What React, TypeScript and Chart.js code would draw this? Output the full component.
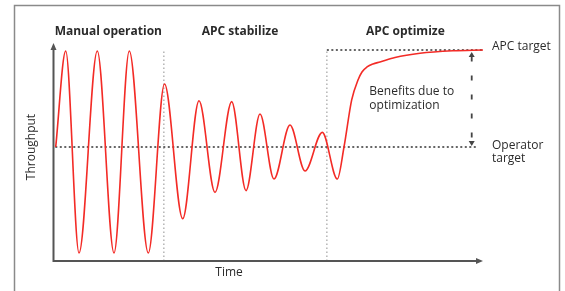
import React, { useEffect, useRef } from "react";
import { Chart, registerables } from "chart.js";

Chart.register(...registerables);

// Time axis (0-100) and throughput (0-100) readings of the red curve
const timePoints = [0.4, 2.73, 5.83, 10.09, 13.99, 17.55, 21.98, 25.76, 30.0, 33.8, 37.53, 41.42, 44.76, 48.02, 51.28, 55.01, 58.51, 62.54, 66.04, 67.6, 69.39, 70.86, 71.79, 72.96, 74.36, 75.99, 79.49, 85.31, 93.01, 100];
const throughput = [52.3, 96.3, 3.7, 96.3, 3.7, 96.3, 3.7, 81.2, 19.4, 73.5, 31.5, 73.1, 32.3, 67.4, 37.6, 62.4, 41.3, 59.0, 37.6, 52.3, 73.9, 83.0, 86.7, 89.0, 90.4, 91.3, 93.35, 95.28, 96.42, 96.8];

const operatorTarget = 52.3;
const apcTarget = 96.8;
const phaseBoundaries = [25.6, 63.6];
const phaseBoundaryTops = [96.3, 96.8];
const phaseLabels = ["Manual operation", "APC stabilize", "APC optimize"];
const phaseCenters = [12.66, 43.36, 81.89];
const benefitTime = 97.37;
const benefitLabel = ["Benefits due to", "optimization"];
const apcTargetLabel = ["APC target"];
const operatorTargetLabel = ["Operator", "target"];
const xTitle = "Time";
const yTitle = "Throughput";

const FONT = "'Open Sans', 'Noto Sans', sans-serif";
const TEXT = "#2b2b2b";
const RED = "#f32b26";

const drawPlugin = {
  id: "diagram",
  beforeDraw(chart: any) {
    const ctx = chart.ctx;
    ctx.save();
    ctx.fillStyle = "#ffffff";
    ctx.fillRect(0, 0, chart.width, chart.height);
    ctx.strokeStyle = "#8a8a8a";
    ctx.lineWidth = 1.5;
    ctx.strokeRect(14.5, 5.5, 545, 320);
    ctx.restore();
  },
  afterDatasetsDraw(chart: any) {
    const ctx = chart.ctx;
    const xs = chart.scales.x;
    const ys = chart.scales.y;
    const { left, right, top, bottom } = chart.chartArea;
    ctx.save();
    // axes
    ctx.strokeStyle = "#555555";
    ctx.fillStyle = "#555555";
    ctx.lineWidth = 2;
    ctx.beginPath();
    ctx.moveTo(left - 0.5, bottom);
    ctx.lineTo(left - 0.5, top + 5);
    ctx.moveTo(left - 1.5, bottom);
    ctx.lineTo(right - 5, bottom);
    ctx.stroke();
    ctx.beginPath();
    ctx.moveTo(left - 0.5, top);
    ctx.lineTo(left - 3.5, top + 7);
    ctx.lineTo(left + 2.5, top + 7);
    ctx.closePath();
    ctx.fill();
    ctx.beginPath();
    ctx.moveTo(right, bottom);
    ctx.lineTo(right - 7, bottom - 3);
    ctx.lineTo(right - 7, bottom + 3);
    ctx.closePath();
    ctx.fill();

    // benefit arrow heads
    const bx = xs.getPixelForValue(benefitTime);
    const by1 = ys.getPixelForValue(apcTarget) + 2;
    const by2 = ys.getPixelForValue(operatorTarget) - 1;
    ctx.fillStyle = "#444444";
    ctx.beginPath();
    ctx.moveTo(bx, by1);
    ctx.lineTo(bx - 3, by1 + 5);
    ctx.lineTo(bx + 3, by1 + 5);
    ctx.closePath();
    ctx.fill();
    ctx.beginPath();
    ctx.moveTo(bx, by2);
    ctx.lineTo(bx - 3, by2 - 5);
    ctx.lineTo(bx + 3, by2 - 5);
    ctx.closePath();
    ctx.fill();

    // texts
    ctx.fillStyle = TEXT;
    ctx.textBaseline = "middle";
    ctx.textAlign = "center";
    ctx.font = `bold 12px ${FONT}`;
    phaseLabels.forEach((t, i) => {
      ctx.fillText(t, xs.getPixelForValue(phaseCenters[i]), 32);
    });
    ctx.font = `12px ${FONT}`;
    ctx.textAlign = "left";
    const labelX = right + 9;
    apcTargetLabel.forEach((t, i) => ctx.fillText(t, labelX, ys.getPixelForValue(apcTarget) - 3 + i * 13));
    operatorTargetLabel.forEach((t, i) => ctx.fillText(t, labelX, ys.getPixelForValue(operatorTarget) - 1 + i * 13));
    const bLeft = xs.getPixelForValue(73.5);
    benefitLabel.forEach((t, i) => ctx.fillText(t, bLeft, 92 + i * 13.5));
    ctx.textAlign = "center";
    ctx.fillText(xTitle, xs.getPixelForValue(40.8), bottom + 12);
    ctx.translate(32, (top + bottom) / 2 - 5);
    ctx.rotate(-Math.PI / 2);
    ctx.fillText(yTitle, 0, 0);
    ctx.restore();
  },
};

export default function App() {
  const ref = useRef<HTMLCanvasElement>(null);
  useEffect(() => {
    if (!ref.current) return;
    const curve = timePoints.map((t, i) => ({ x: t, y: throughput[i] }));
    const chart = new Chart(ref.current, {
      type: "line",
      data: {
        datasets: [
          {
            data: curve,
            borderColor: RED,
            borderWidth: 1.6,
            pointRadius: 0,
            cubicInterpolationMode: "monotone",
            order: 0,
          },
          {
            data: [{ x: 0.3, y: operatorTarget }, { x: 98.8, y: operatorTarget }],
            borderColor: "#333333",
            borderWidth: 1.6,
            borderDash: [2, 2.5],
            pointRadius: 0,
            order: 2,
          },
          {
            data: [{ x: phaseBoundaries[1], y: apcTarget }, { x: 100.4, y: apcTarget }],
            borderColor: "#333333",
            borderWidth: 1.6,
            borderDash: [2, 2.5],
            pointRadius: 0,
            order: 2,
          },
          {
            data: [{ x: phaseBoundaries[0], y: 0 }, { x: phaseBoundaries[0], y: phaseBoundaryTops[0] }],
            borderColor: "#b5b5b5",
            borderWidth: 1.5,
            borderDash: [1.5, 2.5],
            pointRadius: 0,
            order: 3,
          },
          {
            data: [{ x: phaseBoundaries[1], y: 0 }, { x: phaseBoundaries[1], y: phaseBoundaryTops[1] }],
            borderColor: "#b5b5b5",
            borderWidth: 1.5,
            borderDash: [1.5, 2.5],
            pointRadius: 0,
            order: 3,
          },
          {
            data: [{ x: benefitTime, y: apcTarget - 3 }, { x: benefitTime, y: operatorTarget + 1.5 }],
            borderColor: "#444444",
            borderWidth: 1.8,
            borderDash: [5, 14],
            pointRadius: 0,
            order: 1,
          },
        ],
      },
      options: {
        responsive: false,
        animation: false,
        layout: { padding: { left: 54, right: 82, top: 43, bottom: 30 } },
        plugins: { legend: { display: false }, tooltip: { enabled: false } },
        scales: {
          x: { type: "linear", min: 0, max: 100, display: false },
          y: { type: "linear", min: 0, max: 100, display: false },
        },
      },
      plugins: [drawPlugin],
    });
    return () => chart.destroy();
  }, []);
  return (
    <div style={{ position: "absolute", left: 0, top: 0, width: 565, height: 291 }}>
      <canvas ref={ref} width={565} height={291} style={{ display: "block" }} />
    </div>
  );
}
